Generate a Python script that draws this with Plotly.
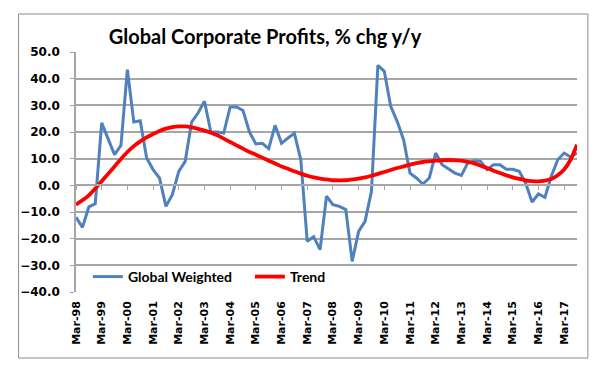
import plotly.graph_objects as go

years = list(range(1998, 2018))
quarter_months = ["Mar", "Jun", "Sep", "Dec"]
quarters = [f"{m}-{str(y)[2:]}" for y in years for m in quarter_months][:79]

global_weighted = [
    -12.0, -15.75, -8.1, -6.9, 23.4, 17.75, 11.5, 15.0, 43.4, 23.75,
    24.25, 10.25, 5.9, 2.75, -7.9, -3.5, 5.25, 9.0, 23.75, 27.1,
    31.5, 20.0, 20.0, 19.6, 29.4, 29.4, 28.1, 20.0, 15.5, 15.75,
    13.75, 22.5, 15.75, 17.75, 19.5, 9.6, -21.0, -19.25, -24.1, -4.1,
    -7.25, -7.9, -9.1, -28.5, -17.25, -13.5, -2.25, 45.0, 42.75, 29.6,
    24.0, 17.1, 4.6, 2.75, 0.5, 2.75, 12.1, 7.75, 6.25, 4.6,
    3.75, 8.4, 9.25, 9.0, 5.9, 7.75, 7.75, 6.0, 6.0, 5.25,
    0.9, -6.25, -3.25, -4.5, 3.4, 9.6, 12.1, 10.6, 12.1,
]

trend = [
    -7.25, -5.6, -3.75, -1.2, 1.5, 4.3, 7.1, 9.9, 12.5, 14.7,
    16.5, 18.0, 19.25, 20.4, 21.25, 21.8, 22.1, 22.1, 21.75, 21.2,
    20.5, 19.7, 18.75, 17.5, 16.25, 15.0, 13.75, 12.5, 11.5, 10.4,
    9.25, 8.2, 7.1, 6.2, 5.25, 4.4, 3.6, 3.0, 2.5, 2.2,
    1.9, 1.85, 1.9, 2.2, 2.5, 3.0, 3.6, 4.3, 5.0, 5.75,
    6.5, 7.1, 7.75, 8.3, 8.75, 9.0, 9.25, 9.4, 9.5, 9.4,
    9.25, 8.8, 8.25, 7.4, 6.5, 5.5, 4.6, 3.8, 3.0, 2.4,
    1.9, 1.6, 1.5, 1.8, 2.4, 3.8, 5.9, 9.6, 15.25,
]

y_ticks = [50, 40, 30, 20, 10, 0, -10, -20, -30, -40]

idx = list(range(len(quarters)))
tick_idx = [i for i, q in enumerate(quarters) if q.startswith("Mar")]
tick_text = [quarters[i] for i in tick_idx]

GRID = "#A6A6A6"
OFF = 8  # default page body margin offset
W, H = 599 - OFF, 371 - OFF
L, T = 71 - OFF, 52 - OFF
pw, ph = 506, 240
R, B = W - L - pw, H - T - ph

def px_x(x):  # window px -> paper x
    return (x - OFF - L) / pw

def px_y(y):  # window px -> paper y
    return (T + ph - (y - OFF)) / ph

fig = go.Figure()
fig.add_trace(go.Scatter(x=idx, y=global_weighted, mode="lines", name="Global Weighted",
                         line=dict(color="#4F81BD", width=3)))
fig.add_trace(go.Scatter(x=idx, y=trend, mode="lines", name="Trend",
                         line=dict(color="#FF0000", width=3.8, shape="spline", smoothing=0.6)))
# invisible helper trace so the zero-line category axis is drawn
fig.add_trace(go.Scatter(x=idx, y=trend, xaxis="x2", mode="lines", opacity=0,
                         line=dict(width=0), showlegend=False, hoverinfo="skip"))

ymin, ymax = -40, 50
zero_pos = (0 - ymin) / (ymax - ymin)

fig.update_layout(
    width=W, height=H,
    margin=dict(l=L, r=R, t=T, b=B),
    paper_bgcolor="white", plot_bgcolor="white",
    showlegend=True,
    title=dict(text="Global Corporate Profits, % chg y/y",
               font=dict(family="Lato", size=20, color="black", weight="bold"),
               x=(265 - OFF) / W, xanchor="center", xref="container",
               y=1 - (37 - OFF) / H, yanchor="middle", yref="container"),
    legend=dict(orientation="h", x=px_x(83), xanchor="left",
                y=px_y(277), yanchor="middle",
                bgcolor="rgba(0,0,0,0)", entrywidth=117, entrywidthmode="pixels",
                font=dict(family="Lato", size=14, color="black", weight="bold")),
    xaxis=dict(range=[0, len(quarters) - 1], tickvals=tick_idx, ticktext=tick_text,
               tickangle=-90, showgrid=False, showline=False, zeroline=False, ticks="",
               ticklabelstandoff=6,
               tickfont=dict(family="DejaVu Sans", size=11, color="black", weight="bold")),
    xaxis2=dict(range=[0, len(quarters) - 1], overlaying="x", anchor="free",
                position=zero_pos, side="bottom", tickvals=tick_idx,
                showticklabels=False, showgrid=False, zeroline=False,
                showline=True, linecolor=GRID, linewidth=1.5,
                ticks="outside", ticklen=4, tickcolor=GRID, tickwidth=1),
    yaxis=dict(range=[ymin, ymax], tickvals=y_ticks, tickformat=".1f",
               showgrid=True, gridcolor=GRID, gridwidth=1.5, zeroline=False,
               showline=True, linecolor=GRID, linewidth=1.5,
               ticks="outside", ticklen=4, tickcolor=GRID, ticklabelstandoff=8,
               tickfont=dict(family="DejaVu Sans", size=12, color="black", weight="bold")),
    shapes=[dict(type="rect", xref="paper", yref="paper",
                 x0=px_x(13), x1=px_x(588), y0=px_y(358), y1=px_y(14),
                 line=dict(color="#8C8C8C", width=1), fillcolor="rgba(0,0,0,0)",
                 layer="below")],
)

fig.write_html("out.html")
